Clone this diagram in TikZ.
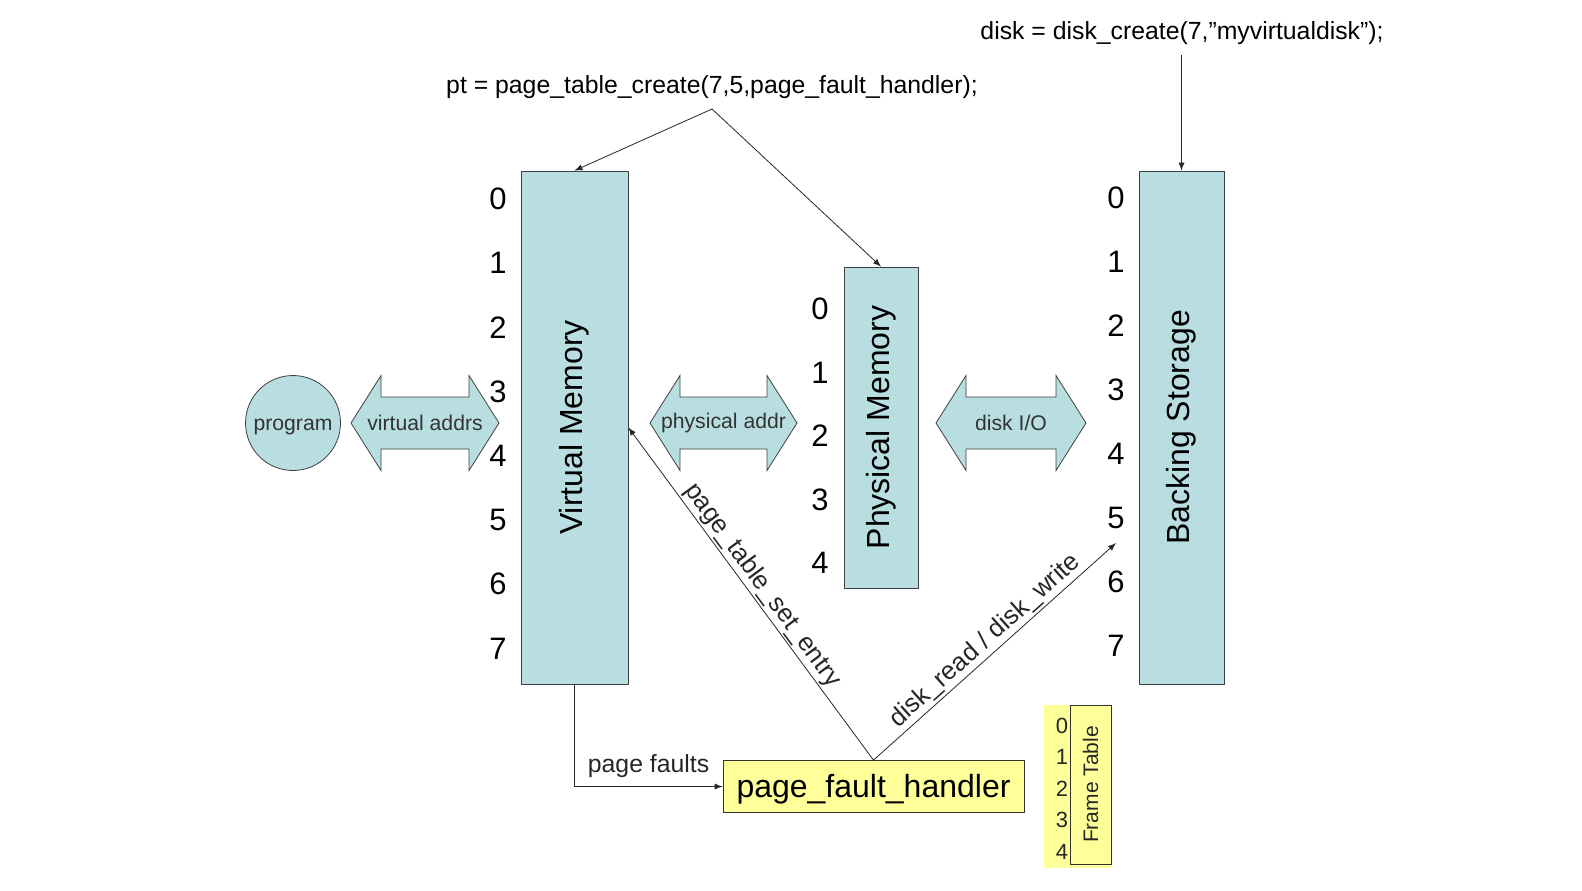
\documentclass[tikz,border=0pt]{standalone}
\usepackage{fontspec}
\setmainfont{Liberation Sans}
\usetikzlibrary{positioning}
\definecolor{memblue}{RGB}{184,222,225}
\definecolor{pfhyellow}{RGB}{255,255,153}
\tikzset{
	membox/.style={draw=black!75, fill=memblue, inner sep=0pt},
	memlabel/.style={rotate=90, font=\fontsize{16}{19}\selectfont},
	slotnum/.style={font=\fontsize{15.5}{18}\selectfont},
	calltext/.style={font=\fontsize{12.4}{15}\selectfont},
	arrowtext/.style={font=\fontsize{10.6}{13}\selectfont, text=black!80},
	edgetext/.style={font=\fontsize{12.8}{15}\selectfont, sloped, above, inner sep=1pt},
	link/.style={-latex, black!85, thin},
}
% double headed block arrow, centre x, half length
\newcommand{\blockarrow}[4]{%
	\draw[draw=black!75, fill=memblue] (#2-#3,423) -- (#2-#3+30,375.5) -- (#2-#3+30,397) -- (#2+#3-30,397) -- (#2+#3-30,375.5) -- (#2+#3,423) -- (#2+#3-30,470.5) -- (#2+#3-30,449) -- (#2-#3+30,449) -- (#2-#3+30,470.5) -- cycle;
	\node[arrowtext] (#1) at (#2,423) {#4};
}

\begin{document}
\begin{tikzpicture}[x=0.5pt, y=-0.5pt]
		\useasboundingbox (0,0) rectangle (1582,890);
		% memories
		\node[membox, minimum width=53.5pt, minimum height=256.5pt] (vm) at (574.5,427.5) {};
		\node[memlabel] (vmlabel) at (vm.center) {Virtual Memory};
		\node[membox, minimum width=37pt, minimum height=160.5pt] (pm) at (881,427.5) {};
		\node[memlabel] (pmlabel) at (pm.center) {Physical Memory};
		\node[membox, minimum width=42.5pt, minimum height=256.5pt] (bs) at (1181.5,427.5) {};
		\node[memlabel] (bslabel) at (bs.center) {Backing Storage};
		\foreach \i in {0,...,7} {
			\node[slotnum] (vmnum\i) at (498,199+64.2*\i) {\i};
			\node[slotnum] (bsnum\i) at (1116,198+64*\i) {\i};
		}
		\foreach \i in {0,...,4}
			\node[slotnum] (pmnum\i) at (820,309+63.5*\i) {\i};
		% program and the block arrows
		\node[circle, draw=black!75, fill=memblue, minimum size=47.5pt, inner sep=0pt, arrowtext, text height=9.5pt, text depth=2.2pt] (prog) at (293,423) {program};
		\blockarrow{vaddr}{425}{74}{virtual addrs}
		\blockarrow{paddr}{723.5}{73.5}{physical addr}
		\blockarrow{diskio}{1011}{75}{disk I/O}
		% handler and frame table
		\node[draw=black!80, fill=pfhyellow, minimum width=150.5pt, minimum height=26pt, inner sep=0pt, text height=14pt, text depth=3.5pt, font=\fontsize{16}{19}\selectfont] (pfh) at (873.5,786.5) {page\_fault\_handler};
		\fill[pfhyellow] (1044,705) rectangle (1112,868);
		\node[draw=black!80, fill=pfhyellow, minimum width=20.5pt, minimum height=79.5pt, inner sep=0pt] (ft) at (1090.5,784.5) {};
		\node[rotate=90, font=\fontsize{10.5}{12}\selectfont, text=black!85] (ftlabel) at (ft.center) {Frame Table};
		\foreach \i/\y in {0/726,1/757,2/789,3/820,4/852}
			\node[font=\fontsize{11}{13}\selectfont, text=black!85] (ftnum\i) at (1062,\y) {\i};
		% calls
		\node[calltext] (ptcall) at (712,87) {pt = page\_table\_create(7,5,page\_fault\_handler);};
		\node[calltext] (diskcall) at (1182,33) {disk = disk\_create(7,”myvirtualdisk”);};
		\coordinate (ptfork) at (712,109);
		\coordinate (diskend) at (1116,543);
		\draw[link] (ptfork) -- (vm.north);
		\draw[link] (ptfork) -- (pm.north);
		\draw[link] (bs.north |- 0,55) -- (bs.north);
		\draw[link] (vm.south) |- node[pos=0.75, above, calltext, inner sep=4pt] (pflabel) {page faults} (pfh.west);
		\draw[link] (pfh.north) -- node[edgetext] (setlabel) {page\_table\_set\_entry} (vm.east);
		\draw[link] (pfh.north) -- node[edgetext] (rwlabel) {disk\_read / disk\_write} (diskend);
	\end{tikzpicture}
\end{document}
